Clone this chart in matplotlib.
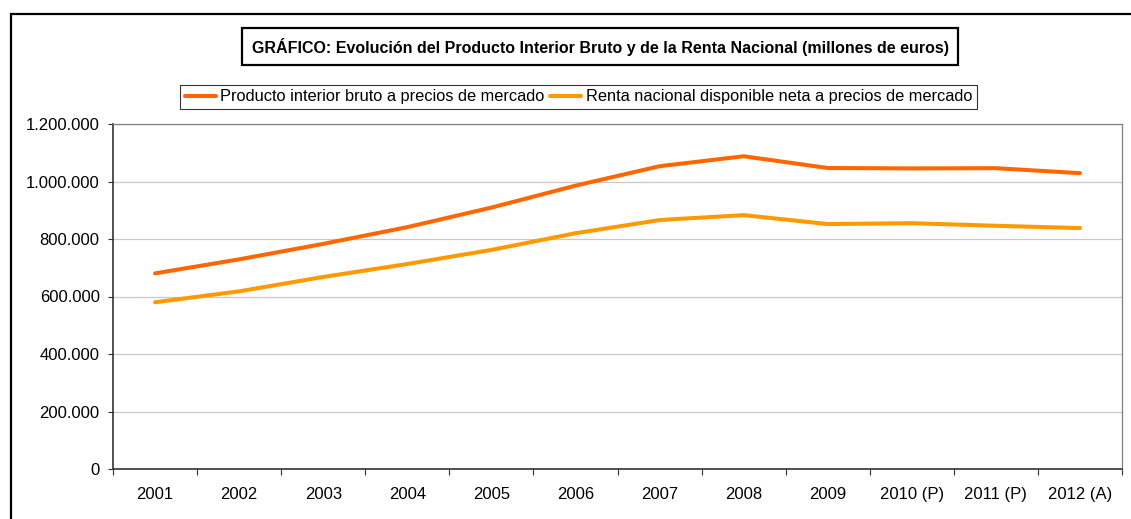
import matplotlib
matplotlib.use("Agg")
import matplotlib.pyplot as plt
from matplotlib.patches import Rectangle
from matplotlib.ticker import FuncFormatter, FixedLocator

years = ["2001", "2002", "2003", "2004", "2005", "2006", "2007", "2008",
         "2009", "2010 (P)", "2011 (P)", "2012 (A)"]
pib = [680397, 729258, 783082, 841294, 909298, 985547, 1053161, 1087788,
       1046894, 1045620, 1046327, 1029002]
renta = [580000, 618000, 668000, 713000, 762000, 820000, 866000, 883000,
         852000, 855000, 846000, 838000]

plt.rcParams['font.family'] = ['Liberation Sans', 'DejaVu Sans']
FS = 12

W, H = 1131, 519
fig = plt.figure(figsize=(W / 100, H / 100), dpi=100)

# outer chart frame (right and bottom edges fall outside the picture)
fig.patches.append(Rectangle((11 / W, -0.1), 1.2, (H - 14) / H + 0.1,
                             transform=fig.transFigure, fill=False,
                             edgecolor='black', linewidth=1.6))

# plot area in pixels: left 113, right 1122, top 124, bottom 469
ax = fig.add_axes([113 / W, (H - 469) / H, (1122 - 113) / W, (469 - 124) / H])
x = list(range(len(years)))
ax.plot(x, pib, color='#FF6600', linewidth=2.9, solid_capstyle='round',
        label='Producto interior bruto a precios de mercado')
ax.plot(x, renta, color='#FF9900', linewidth=2.9, solid_capstyle='round',
        label='Renta nacional disponible neta a precios de mercado')

ax.set_xlim(-0.5, len(years) - 0.5)
ax.set_ylim(0, 1200000)
ax.set_yticks(range(0, 1200001, 200000))
ax.yaxis.set_major_formatter(FuncFormatter(lambda v, p: f"{int(v):,}".replace(",", ".")))
ax.set_xticks(x)
ax.set_xticklabels(years)
ax.xaxis.set_minor_locator(FixedLocator([i - 0.5 for i in range(len(years) + 1)]))
ax.tick_params(axis='x', which='major', length=0, pad=13, labelsize=FS)
ax.tick_params(axis='x', which='minor', length=4, width=0.8, color='#333333', direction='out')
ax.tick_params(axis='y', length=3.6, width=0.8, color='#333333', labelsize=FS, pad=6)
ax.grid(axis='y', color='#C8C8C8', linewidth=0.9)
ax.set_axisbelow(True)
for side in ['top', 'right']:
    ax.spines[side].set_color('#808080')
    ax.spines[side].set_linewidth(0.9)
for side in ['left', 'bottom']:
    ax.spines[side].set_color('#333333')
    ax.spines[side].set_linewidth(1.2)

fig.text(600 / W, (H - 46.5) / H,
         "GRÁFICO: Evolución del Producto Interior Bruto y de la Renta Nacional (millones de euros)",
         ha='center', va='center', fontsize=11.5, fontweight='bold',
         bbox=dict(boxstyle='square,pad=0.6', facecolor='white', edgecolor='black', linewidth=1.6))

leg = fig.legend(loc='center', bbox_to_anchor=(578.5 / W, (H - 97) / H), ncol=2,
                 fontsize=11.8, frameon=True, fancybox=False, handlelength=1.9,
                 handletextpad=0.25, columnspacing=0.35, borderpad=0.3, borderaxespad=0)
leg.get_frame().set_edgecolor('black')
leg.get_frame().set_linewidth(0.8)

fig.savefig("out.png", dpi=100)
